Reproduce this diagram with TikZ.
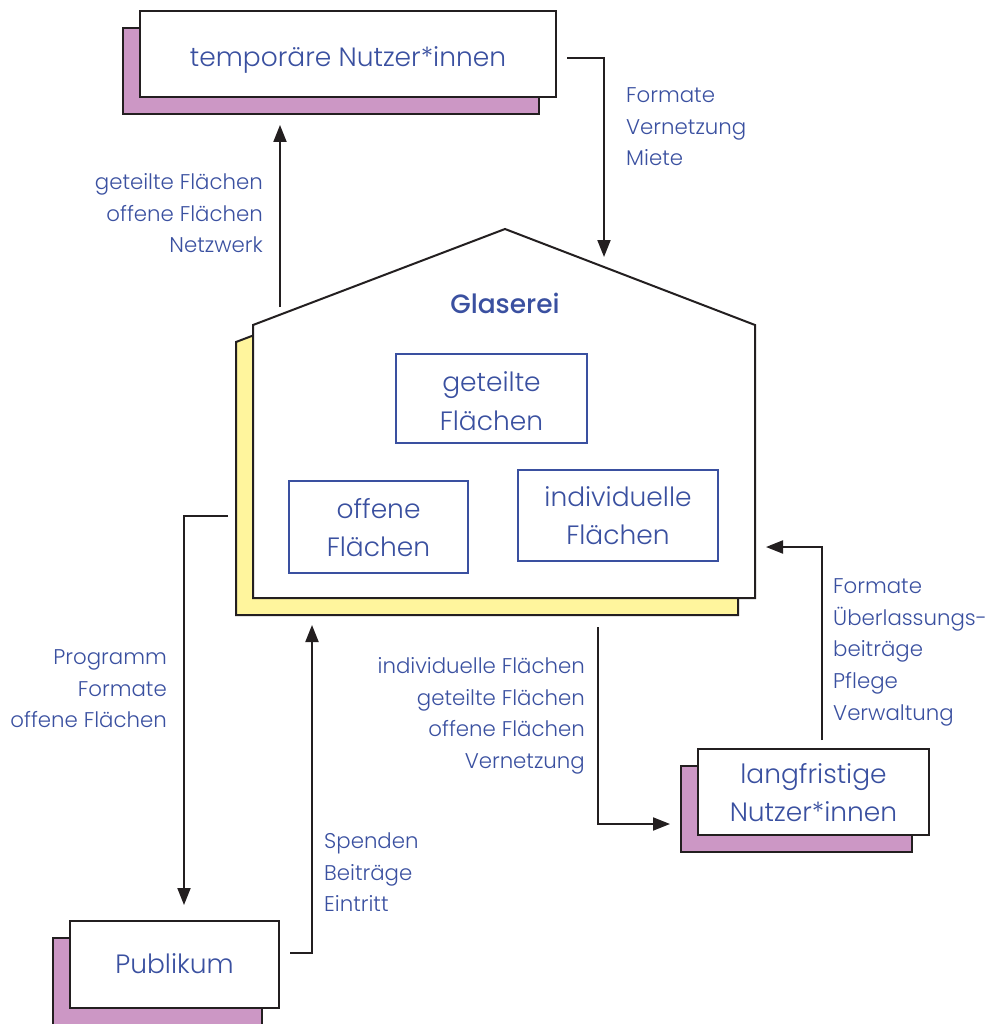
\documentclass[tikz,border=0pt]{standalone}
\usepackage{fontspec}
\setmainfont{Poppins}[UprightFont={* Light}, BoldFont={* Medium}]
\usetikzlibrary{arrows.meta,shadows}
\definecolor{txt}{HTML}{3A50A0}
\definecolor{lila}{HTML}{CC97C5}
\definecolor{gelb}{HTML}{FFF59D}
\definecolor{ink}{HTML}{231F20}
\newcommand{\linesC}[1]{\begin{tabular}[t]{@{}c@{}}#1\end{tabular}}
\newcommand{\linesR}[1]{\begin{tabular}[t]{@{}r@{}}#1\end{tabular}}
\newcommand{\linesL}[1]{\begin{tabular}[t]{@{}l@{}}#1\end{tabular}}
\tikzset{
  arr/.style={draw=ink, line width=2pt, -{Triangle[length=17pt,width=13pt]}},
  mainbox/.style={draw=ink, line width=2pt, fill=white, inner sep=0pt,
    general shadow={fill=lila, draw=ink, line width=2pt, shadow xshift=-17pt, shadow yshift=-17pt}},
  roombox/.style={draw=txt, line width=2pt, fill=white, inner sep=0pt},
  boxtext/.style={text=txt, anchor=base, inner sep=0pt,
    font=\fontsize{26.5}{38.5}\selectfont\renewcommand{\arraystretch}{1}},
  lbl/.style={text=txt, inner sep=0pt,
    font=\fontsize{21.3}{31.6}\selectfont\renewcommand{\arraystretch}{1}},
  lblr/.style={lbl, anchor=base east},
  lbll/.style={lbl, anchor=base west},
}
\begin{document}
\begin{tikzpicture}[x=1pt,y=-1pt]
\useasboundingbox (0,0) rectangle (988,1024);
% house
\draw[draw=ink, line width=2pt, fill=gelb, shift={(-17,17)}]
  (253,325) -- (505,229) -- (755,325) -- (755,598) -- (253,598) -- cycle;
\draw[draw=ink, line width=2pt, fill=white]
  (253,325) -- (505,229) -- (755,325) -- (755,598) -- (253,598) -- cycle;
\node[boxtext, font=\bfseries\fontsize{26.5}{30}\selectfont] (glas) at (505,313) {Glaserei};
% rooms
\node[roombox, minimum width=191pt, minimum height=89pt] (geteilt) at (491.5,398.5) {};
\node[roombox, minimum width=179pt, minimum height=92pt] (offen) at (378.5,527) {};
\node[roombox, minimum width=200pt, minimum height=91pt] (indiv) at (618,515.5) {};
\node[boxtext] (geteilt-t) at (491.5,391.7) {\linesC{geteilte\\Flächen}};
\node[boxtext] (offen-t) at (378.5,518) {\linesC{offene\\Flächen}};
\node[boxtext] (indiv-t) at (618,506) {\linesC{individuelle\\Flächen}};
% actors
\node[mainbox, minimum width=416pt, minimum height=86pt] (temp) at (348,54) {};
\node[mainbox, minimum width=209pt, minimum height=87pt] (pub) at (174.5,964) {};
\node[mainbox, minimum width=231pt, minimum height=86pt] (lang) at (813.5,792) {};
\node[boxtext] (temp-t) at (348,66.5) {temporäre Nutzer*innen};
\node[boxtext] (pub-t) at (174.5,973.3) {Publikum};
\node[boxtext] (lang-t) at (813.5,783) {\linesC{langfristige\\Nutzer*innen}};
% connector ends
\coordinate (a1s) at (280,307);
\coordinate (a1e) at (280,125);
\coordinate (a2s) at (567,58);
\coordinate (a2e) at (604,257);
\coordinate (a3s) at (228,516);
\coordinate (a3e) at (184,905);
\coordinate (a4s) at (290,953);
\coordinate (a4e) at (312,625);
\coordinate (a5s) at (598,627);
\coordinate (a5e) at (670,824);
\coordinate (a6s) at (822,740);
\coordinate (a6e) at (766,547);
% connectors
\draw[arr] (a1s) -- (a1e);
\draw[arr] (a2s) -| (a2e);
\draw[arr] (a3s) -| (a3e);
\draw[arr] (a4s) -| (a4e);
\draw[arr] (a5s) |- (a5e);
\draw[arr] (a6s) |- (a6e);
% labels
\node[lblr] (l1) at (263,189.7) {\linesR{geteilte Flächen\\offene Flächen\\Netzwerk}};
\node[lbll] (l2) at (626,102.7) {\linesL{Formate\\Vernetzung\\Miete}};
\node[lblr] (l3) at (167,664.7) {\linesR{Programm\\Formate\\offene Flächen}};
\node[lbll] (l4) at (324,848.7) {\linesL{Spenden\\Beiträge\\Eintritt}};
\node[lblr] (l5) at (585,673.7) {\linesR{individuelle Flächen\\geteilte Flächen\\offene Flächen\\Vernetzung}};
\node[lbll] (l6) at (833,593.7) {\linesL{Formate\\Überlassungs-\\beiträge\\Pflege\\Verwaltung}};
\end{tikzpicture}
\end{document}
